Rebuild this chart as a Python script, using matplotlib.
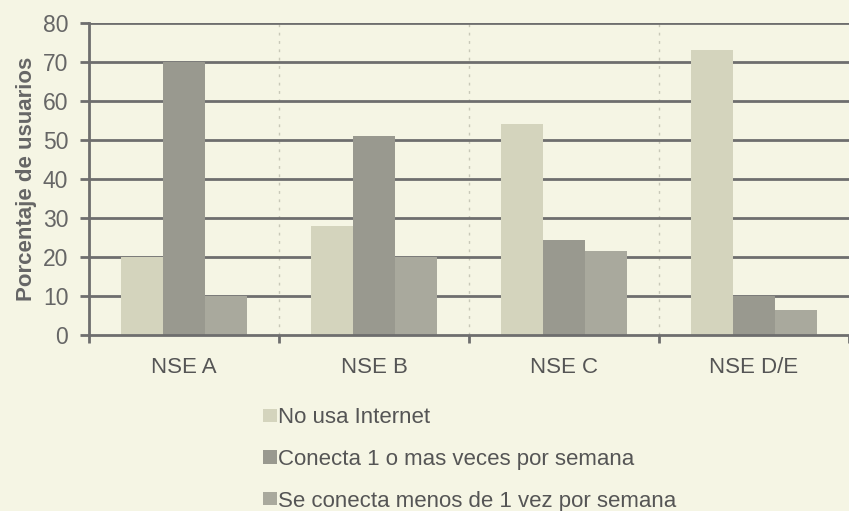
import matplotlib.pyplot as plt
import numpy as np
from matplotlib.patches import Patch

categorias = ['NSE A', 'NSE B', 'NSE C', 'NSE D/E']
series = ['No usa Internet',
          'Conecta 1 o mas veces por semana',
          'Se conecta menos de 1 vez por semana']
no_usa = [20, 28, 54, 73]
conecta_1_mas = [70, 51, 24.5, 10]
conecta_menos_1 = [10, 20, 21.5, 6.5]

colores = ['#d4d4bd', '#99998f', '#a9a99d']
fondo = '#f5f5e4'
gris = '#6e6e6e'

plt.rcParams['font.family'] = ['Liberation Sans', 'DejaVu Sans']

fig = plt.figure(figsize=(8.49, 5.11), dpi=100, facecolor=fondo)
ax = fig.add_axes([0.105, 0.344, 0.895, 0.611])
ax.set_facecolor(fondo)

x = np.arange(len(categorias))
w = 0.22
for i, vals in enumerate([no_usa, conecta_1_mas, conecta_menos_1]):
    ax.bar(x + (i - 1) * w, vals, w, color=colores[i], zorder=3, label=series[i])

ax.set_xlim(-0.5, len(categorias) - 0.5)
ax.set_ylim(0, 80)
ax.set_yticks(range(0, 81, 10))
for v in range(10, 81, 10):
    ax.axhline(v, color=gris, lw=2, zorder=2)
for b in [0.5, 1.5, 2.5]:
    ax.axvline(b, color='#c8c8b8', lw=1, ls=(0, (2, 4)), zorder=1)

ax.set_xticks(x)
ax.set_xticklabels(categorias, fontsize=16, color='#555555')
ax.tick_params(axis='x', length=0, pad=16)
ax.set_xticks(np.arange(-0.5, len(categorias) + 0.5, 1), minor=True)
ax.tick_params(axis='x', which='minor', direction='out', length=6, width=2, color=gris)
ax.tick_params(axis='y', direction='out', length=6.5, width=2, color=gris,
               labelsize=16.5, labelcolor='#666666', pad=8.5)

for s in ['top', 'right']:
    ax.spines[s].set_visible(False)
for s in ['left', 'bottom']:
    ax.spines[s].set_color(gris)
    ax.spines[s].set_linewidth(2)
ax.spines['bottom'].set_zorder(4)

ax.set_ylabel('Porcentaje de usuarios', fontsize=16, fontweight='bold',
              color='#666666', labelpad=4)

handles = [Patch(facecolor=c, edgecolor='none') for c in colores]
fig.legend(handles, series, loc='upper left', bbox_to_anchor=(0.31, 0.203),
           frameon=False, fontsize=16, handlelength=0.6, handleheight=0.55,
           handletextpad=0.05, labelspacing=0.93, labelcolor='#555555',
           borderaxespad=0, borderpad=0)

fig.savefig('out.png', dpi=100, facecolor=fondo)
